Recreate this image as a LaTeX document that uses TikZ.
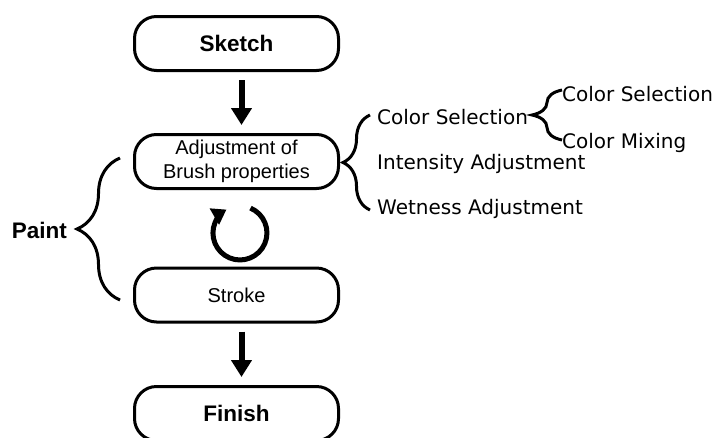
\documentclass[tikz,border=0pt]{standalone}
\usepackage{fontspec}
\setmainfont{Liberation Sans}
\newfontfamily\itemfont{DejaVu Sans}
\usetikzlibrary{arrows.meta,decorations.pathreplacing}
\tikzset{
	stage/.style={draw,line width=3pt,rounded corners=22pt,minimum width=204pt,minimum height=54pt,align=center,inner sep=0pt,font=\fontsize{20}{24}\selectfont},
	endstage/.style={stage,font=\bfseries\fontsize{22.5}{26}\selectfont},
	bigarrow/.style={line width=6pt,-{Triangle[length=17pt,width=20pt]},shorten <=8pt,shorten >=8pt},
	curly/.style={decorate,decoration={brace,amplitude=#1},line width=3pt},
	item/.style={anchor=base west,inner sep=0pt,font=\itemfont\fontsize{20}{24}\selectfont}
}
\begin{document}
\begin{tikzpicture}[x=1pt,y=-1pt]
	\useasboundingbox[fill=white] (0,0) rectangle (712,437);
	\node[endstage] (sketch) at (236.5,43.5) {Sketch};
	\node[stage] (adjust) at (236.5,161.5) {Adjustment of\\Brush properties};
	\node[stage] (stroke) at (236.5,295) {Stroke};
	\node[endstage] (finish) at (236.5,413.5) {Finish};
	\draw[bigarrow] ([xshift=5pt]sketch.south) -- ([xshift=5pt]adjust.north);
	\draw[bigarrow] ([xshift=5pt]stroke.south) -- ([xshift=5pt]finish.north);
	\draw[line width=5pt,-{Triangle[length=14pt,width=18pt]}] (250.5,208.1) arc[start angle=67,end angle=-240,radius=27pt];
	\draw[curly=43pt] (120,300) -- (120,158);
	\node[anchor=base east,inner sep=0pt,font=\bfseries\fontsize{22.5}{26}\selectfont] (paint) at (67,238) {Paint};
	\draw[curly=27pt] (370,210) -- (370,115);
	\node[item] (color) at (377,124) {Color Selection};
	\node[item] (intensity) at (377,169) {Intensity Adjustment};
	\node[item] (wetness) at (377,214) {Wetness Adjustment};
	\draw[curly=30pt] (562,140) -- (562,90);
	\node[item] (select) at (562,101.5) {Color Selection};
	\node[item] (mixing) at (562,148) {Color Mixing};
\end{tikzpicture}
\end{document}
